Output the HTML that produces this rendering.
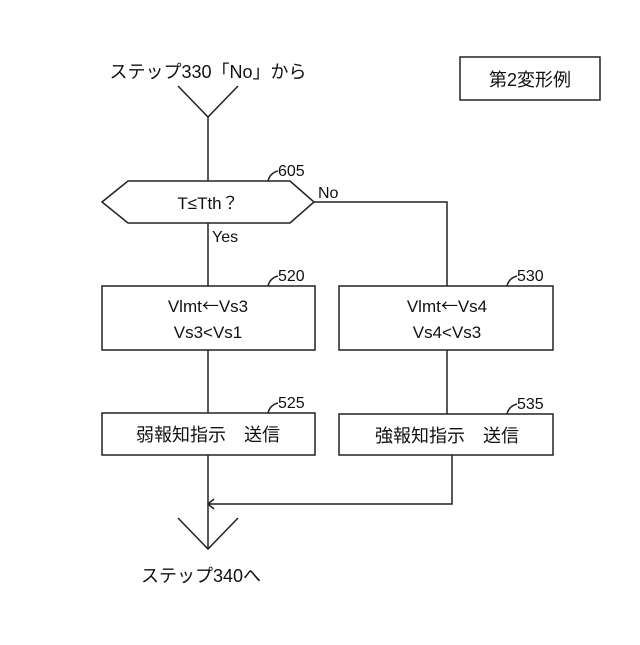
<!DOCTYPE html>
<html><head><meta charset="utf-8"><style>
body{margin:0;background:#fff}
svg text{font-family:"Liberation Sans","Noto Sans CJK JP",sans-serif;fill:#111}
</style></head><body>
<svg width="640" height="640" viewBox="0 0 640 640" xmlns="http://www.w3.org/2000/svg">
<g stroke="#222" stroke-width="1.5" fill="none">
<rect x="460" y="57" width="140" height="43"/>
<polyline points="178,86 208,117 238,86"/>
<line x1="208" y1="117" x2="208" y2="181"/>
<polygon points="102,202 128,181 290,181 314,202 290,223 128,223"/>
<polyline points="314,202 447,202 447,286"/>
<line x1="208" y1="223" x2="208" y2="286"/>
<rect x="102" y="286" width="213" height="64"/>
<rect x="339" y="286" width="214" height="64"/>
<line x1="208" y1="350" x2="208" y2="413"/>
<line x1="447" y1="350" x2="447" y2="414"/>
<rect x="102" y="413" width="213" height="42"/>
<rect x="339" y="414" width="214" height="41"/>
<polyline points="452,455 452,504 208,504"/>
<line x1="208" y1="455" x2="208" y2="549"/>
<polyline points="214,499 208,504 214,509"/>
<polyline points="178,518 208,549 238,518"/>
<path d="M268,181 q2,-8 10,-10"/>
<path d="M268,286 q2,-8 10,-10"/>
<path d="M507,286 q2,-8 10,-10"/>
<path d="M268,413 q2,-8 10,-10"/>
<path d="M507,414 q2,-8 10,-10"/>
</g>
<text x="208" y="78" font-size="18" text-anchor="middle">ステップ330「No」から</text>
<text x="530" y="86" font-size="18" text-anchor="middle">第2変形例</text>
<text x="278" y="176" font-size="16">605</text>
<text x="208" y="209" font-size="17" text-anchor="middle">T≤Tth？</text>
<text x="318" y="198" font-size="16">No</text>
<text x="212" y="242" font-size="16">Yes</text>
<text x="278" y="281" font-size="16">520</text>
<text x="517" y="281" font-size="16">530</text>
<text x="208" y="312" font-size="17" text-anchor="middle">Vlmt<tspan style="font-family:'Noto Sans CJK JP',sans-serif">←</tspan>Vs3</text>
<text x="208" y="338" font-size="17" text-anchor="middle">Vs3&lt;Vs1</text>
<text x="447" y="312" font-size="17" text-anchor="middle">Vlmt<tspan style="font-family:'Noto Sans CJK JP',sans-serif">←</tspan>Vs4</text>
<text x="447" y="338" font-size="17" text-anchor="middle">Vs4&lt;Vs3</text>
<text x="278" y="408" font-size="16">525</text>
<text x="517" y="409" font-size="16">535</text>
<text x="208" y="441" font-size="18" text-anchor="middle">弱報知指示　送信</text>
<text x="447" y="442" font-size="18" text-anchor="middle">強報知指示　送信</text>
<text x="201" y="582" font-size="18" text-anchor="middle">ステップ340へ</text>
</svg>
</body></html>
